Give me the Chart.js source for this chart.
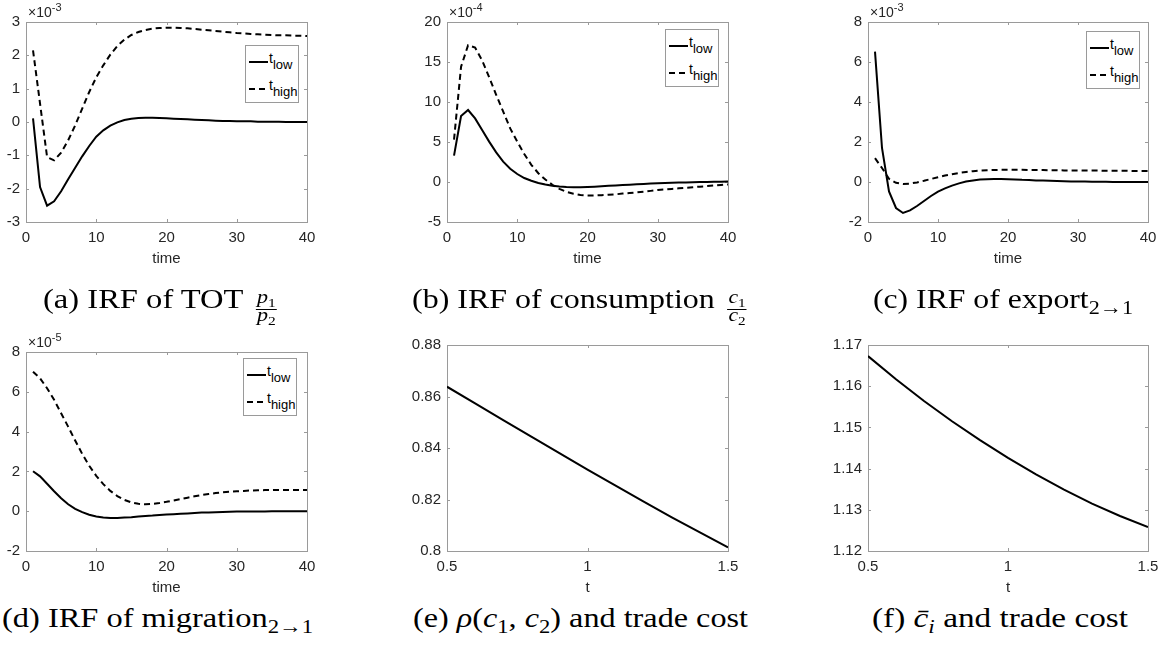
<!DOCTYPE html>
<html>
<head>
<meta charset="utf-8">
<script src="https://cdn.jsdelivr.net/npm/chart.js@4.4.1/dist/chart.umd.min.js"></script>
<style>
html,body{margin:0;padding:0;background:#fff}
body{width:1169px;height:652px;position:relative;overflow:hidden}
canvas{position:absolute}
.exp{position:absolute;font:14px "Liberation Sans",Arial,sans-serif;color:#262626;line-height:14px;white-space:nowrap}
.exp sup{font-size:11px;vertical-align:6px;line-height:0}
.leg{position:absolute;box-sizing:border-box;border:1px solid #9a9a9a;background:#fff;width:54px;height:58px;font-family:"Liberation Sans",Arial,sans-serif;color:#000}
.leg .ln{position:absolute;left:3px;width:19px;height:2px}
.leg .solid{background:#000}
.leg .dash{background:repeating-linear-gradient(to right,#000 0 6px,transparent 6px 10px)}
.leg .tx{position:absolute;left:23px;font-size:14px;line-height:14px;white-space:nowrap}
.leg .tx sub{font-size:13px;vertical-align:-6px;line-height:0}
.cap{position:absolute;font-family:"Liberation Serif","Times New Roman",serif;font-size:28px;line-height:28px;color:#000;white-space:nowrap;transform-origin:0 0}
.cap .sb{font-size:70%;vertical-align:-0.3em;line-height:0}
.frac{display:inline-block;vertical-align:-13px;text-align:center;font-size:19px;margin:0 1px 0 4px}
.frac .n{display:block;line-height:24px;border-bottom:1px solid #000;padding:0 1px}
.frac .d{display:block;line-height:10px}
</style>
</head>
<body>
<script>
// ---------------- data ----------------
const timeSteps = [1,2,3,4,5,6,7,8,9,10,11,12,13,14,15,16,17,18,19,20,21,22,23,24,25,26,27,28,29,30,31,32,33,34,35,36,37,38,39,40];

// (a) IRF of TOT, units of 1e-3
const totLow  = [0.11,-1.95,-2.51,-2.38,-2.08,-1.72,-1.37,-1.03,-0.72,-0.44,-0.25,-0.11,-0.01,0.06,0.10,0.12,0.13,0.13,0.12,0.11,0.10,0.09,0.08,0.07,0.06,0.05,0.04,0.03,0.03,0.02,0.02,0.02,0.01,0.01,0.01,0.01,0.00,0.00,0.00,0.00];
const totHigh = [2.15,0.55,-1.05,-1.15,-0.92,-0.55,-0.10,0.40,0.90,1.34,1.70,2.02,2.28,2.47,2.61,2.70,2.76,2.80,2.82,2.83,2.83,2.82,2.81,2.79,2.77,2.75,2.73,2.71,2.69,2.67,2.66,2.64,2.63,2.62,2.61,2.60,2.60,2.59,2.59,2.58];

// (b) IRF of consumption, units of 1e-4
const consLow  = [3.3,8.25,9.0,7.95,6.5,5.05,3.7,2.55,1.65,1.0,0.5,0.15,-0.12,-0.32,-0.47,-0.57,-0.63,-0.66,-0.65,-0.62,-0.58,-0.53,-0.48,-0.43,-0.38,-0.33,-0.28,-0.24,-0.20,-0.16,-0.13,-0.10,-0.07,-0.05,-0.03,-0.01,0.0,0.02,0.03,0.05];
const consHigh = [5.3,14.4,17.1,16.8,15.2,13.1,10.9,8.8,6.7,5.05,3.5,2.15,1.1,0.3,-0.35,-0.85,-1.22,-1.47,-1.62,-1.68,-1.68,-1.65,-1.60,-1.54,-1.45,-1.38,-1.30,-1.21,-1.11,-1.00,-0.93,-0.86,-0.79,-0.72,-0.65,-0.58,-0.51,-0.44,-0.37,-0.30];

// (c) IRF of export 2->1, units of 1e-3
const exportLow  = [6.52,1.7,-0.47,-1.3,-1.55,-1.42,-1.2,-0.95,-0.7,-0.48,-0.32,-0.18,-0.07,0.02,0.08,0.12,0.14,0.15,0.15,0.14,0.13,0.11,0.10,0.08,0.07,0.06,0.05,0.04,0.03,0.02,0.02,0.01,0.01,0.01,0.0,0.0,0.0,0.0,0.0,0.0];
const exportHigh = [1.19,0.7,0.16,-0.04,-0.1,-0.08,-0.02,0.06,0.15,0.24,0.32,0.39,0.45,0.50,0.54,0.57,0.59,0.60,0.61,0.61,0.61,0.61,0.60,0.60,0.60,0.59,0.59,0.58,0.58,0.58,0.57,0.57,0.57,0.56,0.56,0.56,0.56,0.55,0.55,0.55];

// (d) IRF of migration 2->1, units of 1e-5
const migLow  = [2.01,1.75,1.38,1.0,0.65,0.35,0.12,-0.05,-0.18,-0.27,-0.32,-0.34,-0.34,-0.32,-0.30,-0.27,-0.24,-0.22,-0.19,-0.17,-0.15,-0.13,-0.11,-0.09,-0.07,-0.06,-0.05,-0.04,-0.03,-0.02,-0.02,-0.01,-0.01,-0.01,0,0,0,0,0,0];
const migHigh = [7.01,6.68,6.18,5.6,4.92,4.25,3.55,2.88,2.28,1.78,1.36,1.02,0.76,0.57,0.44,0.37,0.35,0.37,0.41,0.47,0.54,0.61,0.68,0.75,0.81,0.86,0.91,0.95,0.98,1.0,1.02,1.04,1.05,1.06,1.06,1.07,1.07,1.07,1.07,1.07];

// (e),(f) against trade cost t
const tradeCost = [0.5,0.6,0.7,0.8,0.9,1.0,1.1,1.2,1.3,1.4,1.5];
const rhoC1C2   = [0.8638,0.8573,0.8508,0.8444,0.8380,0.8316,0.8254,0.8192,0.8131,0.8072,0.8014];
const cBar      = [1.1673,1.1617,1.1564,1.1515,1.1469,1.1426,1.1386,1.1349,1.1315,1.1285,1.1258];

// tick labels
const irfXTicks   = [0,10,20,30,40];
const costXTicks  = [0.5,1,1.5];
const totYTicks   = [-3,-2,-1,0,1,2,3];
const consYTicks  = [-5,0,5,10,15,20];
const exportYTicks= [-2,0,2,4,6,8];
const migYTicks   = [-2,0,2,4,6,8];
const rhoYTicks   = [0.8,0.82,0.84,0.86,0.88];
const cBarYTicks  = [1.12,1.13,1.14,1.15,1.16,1.17];

const legendLabels = [['t','low'],['t','high']];

// ---------------- layout ----------------
const panels = [
  {plot:[26,22,307,222],  x:timeSteps, series:[totLow,totHigh],       xr:[0,40], xt:irfXTicks,  yr:[-3,3],     yt:totYTicks,    xTitle:'time', exp:'-3', leg:[245,45]},
  {plot:[447,22,728,222], x:timeSteps, series:[consLow,consHigh],     xr:[0,40], xt:irfXTicks,  yr:[-5,20],    yt:consYTicks,   xTitle:'time', exp:'-4', leg:[665,29]},
  {plot:[868,22,1148,222],x:timeSteps, series:[exportLow,exportHigh], xr:[0,40], xt:irfXTicks,  yr:[-2,8],     yt:exportYTicks, xTitle:'time', exp:'-3', leg:[1086,31]},
  {plot:[26,352,307,551], x:timeSteps, series:[migLow,migHigh],       xr:[0,40], xt:irfXTicks,  yr:[-2,8],     yt:migYTicks,    xTitle:'time', exp:'-5', leg:[243,358]},
  {plot:[447,345,728,551],x:tradeCost, series:[rhoC1C2],              xr:[0.5,1.5], xt:costXTicks, yr:[0.8,0.88], yt:rhoYTicks,  xTitle:'t'},
  {plot:[868,345,1148,551],x:tradeCost,series:[cBar],                 xr:[0.5,1.5], xt:costXTicks, yr:[1.12,1.17],yt:cBarYTicks, xTitle:'t'}
];

const AXIS = '#9a9a9a', TXT = '#262626';

const framePlugin = {
  id: 'frame',
  beforeDatasetsDraw(chart) {
    const {ctx, chartArea: a, scales: {x, y}} = chart;
    ctx.save();
    ctx.strokeStyle = AXIS; ctx.lineWidth = 1;
    ctx.strokeRect(Math.round(a.left) + 0.5, Math.round(a.top) + 0.5, Math.round(a.right - a.left), Math.round(a.bottom - a.top));
    ctx.beginPath();
    x.ticks.forEach(t => {
      const px = Math.round(x.getPixelForValue(t.value)) + 0.5;
      ctx.moveTo(px, a.bottom); ctx.lineTo(px, a.bottom - 3);
      ctx.moveTo(px, a.top); ctx.lineTo(px, a.top + 3);
    });
    y.ticks.forEach(t => {
      const py = Math.round(y.getPixelForValue(t.value)) + 0.5;
      ctx.moveTo(a.left, py); ctx.lineTo(a.left + 3, py);
      ctx.moveTo(a.right, py); ctx.lineTo(a.right - 3, py);
    });
    ctx.stroke();
    ctx.restore();
  }
};

function build(p) {
  const [L, T, R, B] = p.plot;
  const cl = L - 60, ct = T - 25, cw = R + 21 - cl, ch = B + 46 - ct;
  const cv = document.createElement('canvas');
  cv.width = cw; cv.height = ch;
  cv.style.left = cl + 'px'; cv.style.top = ct + 'px';
  cv.style.width = cw + 'px'; cv.style.height = ch + 'px';
  document.body.appendChild(cv);

  const datasets = p.series.map((vals, i) => ({
    label: legendLabels[i] ? legendLabels[i].join('') : 'value',
    data: p.x.map((xv, k) => ({x: xv, y: vals[k]})),
    borderColor: '#000', backgroundColor: '#000',
    borderWidth: 2, borderDash: i === 1 ? [6, 4] : [],
    pointRadius: 0, tension: 0, fill: false
  }));

  const tickFont = {family: '"Liberation Sans", Arial, sans-serif', size: 15};
  new Chart(cv, {
    type: 'line',
    data: {datasets},
    options: {
      responsive: false, animation: false, devicePixelRatio: 1,
      layout: {padding: {top: T - ct, right: cl + cw - R, left: 0, bottom: 0}},
      plugins: {legend: {display: false}, tooltip: {enabled: false}},
      scales: {
        x: {
          type: 'linear', min: p.xr[0], max: p.xr[1],
          afterBuildTicks: s => { s.ticks = p.xt.map(v => ({value: v})); },
          afterFit: s => { s.height = ch - (B - ct); },
          grid: {display: false, drawTicks: false}, border: {display: false},
          ticks: {font: tickFont, color: TXT, padding: 7, maxRotation: 0, autoSkip: false, callback: v => String(v)},
          title: {display: true, text: p.xTitle, color: TXT, font: {family: '"Liberation Sans", Arial, sans-serif', size: 15}, padding: {top: 0, bottom: 0}}
        },
        y: {
          type: 'linear', min: p.yr[0], max: p.yr[1],
          afterBuildTicks: s => { s.ticks = p.yt.map(v => ({value: v})); },
          afterFit: s => { s.width = L - cl; },
          grid: {display: false, drawTicks: false}, border: {display: false},
          ticks: {font: tickFont, color: TXT, padding: 6, autoSkip: false, callback: v => String(v)}
        }
      }
    },
    plugins: [framePlugin]
  });

  if (p.exp) {
    const e = document.createElement('div');
    e.className = 'exp';
    e.style.left = (L + 2) + 'px';
    e.style.top = (T - 17) + 'px';
    e.innerHTML = '\u00d710<sup>' + p.exp + '</sup>';
    document.body.appendChild(e);
  }
  if (p.leg) {
    const d = document.createElement('div');
    d.className = 'leg';
    d.style.left = p.leg[0] + 'px'; d.style.top = p.leg[1] + 'px';
    d.innerHTML =
      '<div class="ln solid" style="top:15px"></div><div class="tx" style="top:5px">' + legendLabels[0][0] + '<sub>' + legendLabels[0][1] + '</sub></div>' +
      '<div class="ln dash" style="top:42px"></div><div class="tx" style="top:32px">' + legendLabels[1][0] + '<sub>' + legendLabels[1][1] + '</sub></div>';
    document.body.appendChild(d);
  }
}

panels.forEach(build);

// ---------------- captions ----------------
const captions = [
  {html: '(a) IRF of TOT <span class="frac"><span class="n"><i>p</i><span class="sb">1</span></span><span class="d"><i>p</i><span class="sb">2</span></span></span>', left: 42.7, w: 235, base: 308},
  {html: '(b) IRF of consumption <span class="frac"><span class="n"><i>c</i><span class="sb">1</span></span><span class="d"><i>c</i><span class="sb">2</span></span></span>', left: 411.7, w: 336, base: 308},
  {html: '(c) IRF of export<span class="sb">2\u21921</span>', left: 872.7, w: 260, base: 308},
  {html: '(d) IRF of migration<span class="sb">2\u21921</span>', left: 1.7, w: 311, base: 627},
  {html: '(e) <i>\u03c1</i>(<i>c</i><span class="sb">1</span>, <i>c</i><span class="sb">2</span>) and trade cost', left: 412.7, w: 335, base: 627},
  {html: '(f) <i>c\u0304</i><span class="sb"><i>i</i></span> and trade cost', left: 871.7, w: 256, base: 627}
];
const capEls = captions.map(c => {
  const d = document.createElement('div');
  d.className = 'cap';
  d.innerHTML = c.html;
  d.style.left = c.left + 'px';
  d.style.top = (c.base - 23.5) + 'px';
  document.body.appendChild(d);
  return d;
});
function fitCaps() {
  capEls.forEach((d, i) => {
    d.style.transform = 'none';
    const w = d.getBoundingClientRect().width;
    d.style.transform = 'scaleX(' + (captions[i].w / w) + ')';
  });
}
fitCaps();
if (document.fonts && document.fonts.ready) document.fonts.ready.then(fitCaps);
</script>
</body>
</html>
